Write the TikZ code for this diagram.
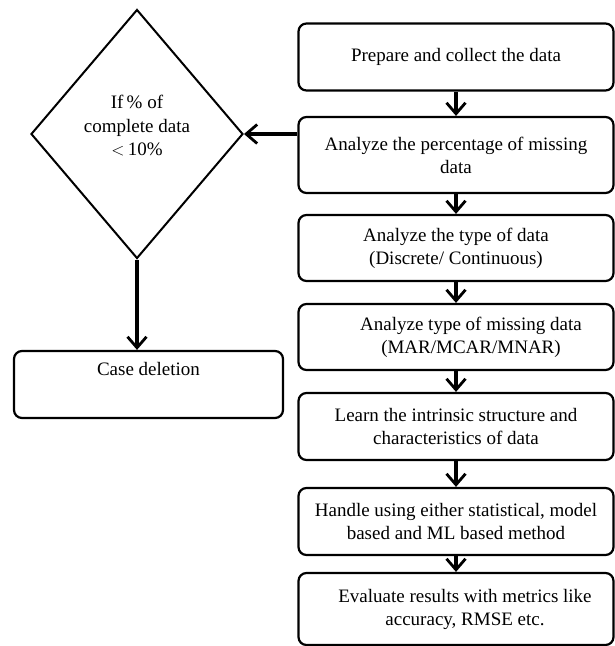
\documentclass[tikz,border=0pt]{standalone}
\usepackage{fontspec}
\setmainfont{Liberation Serif}
\usetikzlibrary{shapes.geometric,arrows.meta}
\begin{document}
\begin{tikzpicture}[x=1pt,y=-1pt,
  box/.style={draw,line width=2.2pt,rounded corners=8pt,minimum width=315pt,inner sep=0pt,align=center,
    font=\fontsize{19}{23}\selectfont},
  lbox/.style={draw,line width=2.2pt,rounded corners=8pt,minimum width=269pt,minimum height=67pt,inner sep=0pt},
  txt/.style={align=center,inner sep=0pt,font=\fontsize{19}{23.5}\selectfont},
  arr/.style={line width=3.2pt,-{Straight Barb[length=11pt,width=19pt,line width=2.8pt]}}]
\useasboundingbox (0,0) rectangle (615,646);
\node[draw,diamond,line width=2pt,minimum width=212pt,minimum height=249pt,inner sep=0pt] (dec) at (137,134) {};
\node[txt] (dect) at (137,126) {If\,\% of\\complete data\\${<}$\,10\%};
\node[lbox] (cd) at (148.5,384.5) {};
\node[txt] (cdt) at (148.5,369) {Case deletion};
\node[box,minimum height=67pt] (b1) at (456,57) {Prepare and collect the data};
\node[box,minimum height=76pt] (b2) at (456,155) {Analyze the percentage of missing\\data};
\node[box,minimum height=66pt] (b3) at (456,248) {Analyze the type of data\\(Discrete/ Continuous)};
\node[box,minimum height=66pt] (b4) at (456,337) {\hspace*{30pt}Analyze type of missing data\\\hspace*{30pt}(MAR/MCAR/MNAR)};
\node[box,minimum height=67pt] (b5) at (456,426.5) {Learn the intrinsic structure and\\characteristics of data};
\node[box,minimum height=67pt] (b6) at (456,521.5) {Handle using either statistical, model\\based and ML based method};
\node[box,minimum height=72pt] (b7) at (456,609) {\hspace*{18pt}Evaluate results with metrics like\\\hspace*{18pt}accuracy, RMSE etc.};
\draw[arr] (b1.south) -- (b2.north);
\draw[arr] (b2.south) -- (b3.north);
\draw[arr] (b3.south) -- (b4.north);
\draw[arr] (b4.south) -- (b5.north);
\draw[arr] (b5.south) -- (b6.north);
\draw[arr] (b6.south) -- (b7.north);
\draw[arr] (dec.east -| b2.west) -- (dec.east);
\draw[arr] (dec.south) -- (dec.south |- cd.north);
\end{tikzpicture}
\end{document}
